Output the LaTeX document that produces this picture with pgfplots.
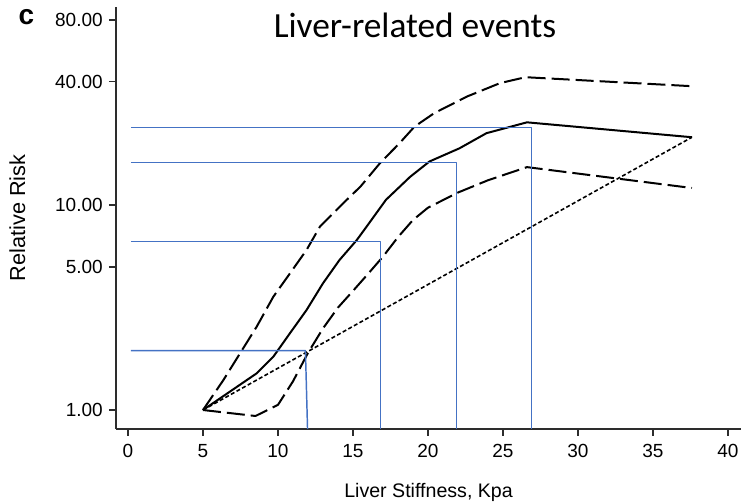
\documentclass[border=0pt]{standalone}
\usepackage{pgfplots}
\pgfplotsset{compat=1.18}
\usepackage{fontspec}
\setmainfont{Liberation Sans}
\newfontfamily\titlefont{Carlito}
\definecolor{cutblue}{RGB}{68,114,196}
\definecolor{axisgray}{RGB}{45,45,45}

\begin{document}
\begin{tikzpicture}
\path[use as bounding box] (0,0) rectangle (555.75pt,376.5pt);

% panel letter, title and axis titles
\node[anchor=base west, font=\fontsize{21}{24}\selectfont\bfseries] at (10.5pt,357.75pt) {c};
\node[anchor=base, font=\titlefont\fontsize{26.5}{30}\selectfont] at (311.25pt,348pt) {Liver-related events};
\node[anchor=base, font=\fontsize{14.7}{17}\selectfont] at (321.4pt,3pt) {Liver Stiffness, Kpa};
\node[anchor=base, rotate=90, font=\fontsize{16.3}{19}\selectfont] at (18.75pt,213pt) {Relative Risk};

\begin{axis}[
  at={(87pt,54.75pt)}, anchor=south west,
  width=468.75pt, height=316.5pt, scale only axis,
  xmin=-0.8, xmax=40.87,
  ymode=log, ymin=0.808, ymax=92.4,
  axis lines=left,
  axis line style={-, line width=1.5pt, color=axisgray},
  xtick={0,5,...,40},
  xticklabels={0,5,10,15,20,25,30,35,40},
  ytick={1,5,10,40,80},
  yticklabels={1.00,5.00,10.00,40.00,80.00},
  yminorticks=false, xminorticks=false,
  tick align=outside, major tick length=5.25pt,
  tick style={line width=1.4pt, color=axisgray},
  tick label style={font=\fontsize{14.25}{17}\selectfont, inner sep=0pt},
  xticklabel style={anchor=north, yshift=-6pt},
  yticklabel style={anchor=east, xshift=-4.5pt},
  clip=false,
  line join=round,
]

% upper confidence limit
\addplot[black, line width=1.5pt, dash pattern=on 13.5pt off 4.5pt] coordinates {
  (5,1) (6.36,1.40) (7.47,1.89) (8.58,2.55) (9.69,3.57) (10.8,4.64)
  (11.9,6.03) (12.8,7.85) (14.35,10.2) (15.5,12.3) (16.8,16.0)
  (18.1,20.0) (19.1,24.1) (20.4,28.0) (22.6,33.8) (24.8,39.3)
  (26.5,42.0) (37.5,38.0)
};

% relative risk estimate
\addplot[black, line width=1.5pt] coordinates {
  (5,1) (8.58,1.51) (9.69,1.82) (10.8,2.37) (11.9,3.07) (13.0,4.15)
  (14.1,5.39) (15.25,6.74) (15.9,7.83) (17.2,10.6) (18.8,13.7)
  (20.1,16.3) (22.1,18.9) (23.9,22.4) (26.6,25.3) (37.6,21.4)
};

% lower confidence limit
\addplot[black, line width=1.5pt, dash pattern=on 13.5pt off 4.5pt] coordinates {
  (5,1) (8.5,0.935) (10,1.06) (11,1.38) (12,1.9) (13,2.5) (14,3.16)
  (15,3.81) (16,4.61) (17,5.6) (18,6.97) (19,8.45) (20,9.7)
  (22,11.5) (24,13.2) (26.6,15.3) (37.6,12.1)
};

% log-linear reference
\addplot[black, line width=1.2pt, dash pattern=on 3pt off 1.8pt] coordinates {
  (5,1) (37.6,21.4)
};

% stiffness cut-offs
\addplot[cutblue, line width=1.1pt] coordinates {(0.2,1.950) (11.83,1.950) (11.97,0.808)};
\addplot[cutblue, line width=1.1pt] coordinates {(0.2,6.635) (16.83,6.635) (16.83,0.808)};
\addplot[cutblue, line width=1.1pt] coordinates {(0.2,16.12) (21.9,16.12) (21.9,0.808)};
\addplot[cutblue, line width=1.1pt] coordinates {(0.2,23.87) (26.9,23.87) (26.9,0.808)};

\end{axis}
\end{tikzpicture}
\end{document}
